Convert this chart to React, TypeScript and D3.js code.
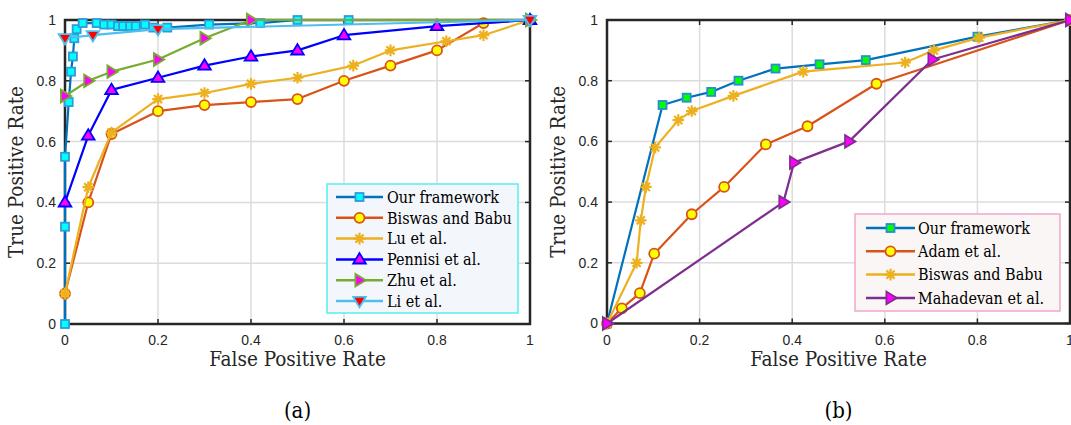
import React, { useEffect, useRef } from "react"
import * as d3 from "d3"

// ---- panel (a) ----
const aOursX = [0, 0, 0, 0.008, 0.013, 0.017, 0.02, 0.025, 0.038, 0.068, 0.084, 0.1, 0.114, 0.125, 0.14, 0.152, 0.172, 0.19, 0.22, 0.31, 0.42, 0.5, 0.61, 1]
const aOursY = [0, 0.32, 0.55, 0.73, 0.83, 0.88, 0.94, 0.97, 0.99, 0.99, 0.985, 0.985, 0.98, 0.98, 0.98, 0.98, 0.985, 0.975, 0.975, 0.985, 0.99, 1, 1, 1]
const aBiswasX = [0, 0.05, 0.1, 0.2, 0.3, 0.4, 0.5, 0.6, 0.7, 0.8, 0.9, 1]
const aBiswasY = [0.1, 0.4, 0.625, 0.7, 0.72, 0.73, 0.74, 0.8, 0.85, 0.9, 0.99, 1]
const aLuX = [0, 0.05, 0.1, 0.2, 0.3, 0.4, 0.5, 0.62, 0.7, 0.82, 0.9, 1]
const aLuY = [0.1, 0.45, 0.63, 0.74, 0.76, 0.79, 0.81, 0.85, 0.9, 0.93, 0.95, 1]
const aPennisiX = [0, 0.05, 0.1, 0.2, 0.3, 0.4, 0.5, 0.6, 0.8, 1]
const aPennisiY = [0.4, 0.62, 0.77, 0.81, 0.85, 0.88, 0.9, 0.95, 0.98, 1]
const aZhuX = [0, 0.05, 0.1, 0.2, 0.3, 0.4, 1]
const aZhuY = [0.75, 0.8, 0.83, 0.87, 0.94, 1, 1]
const aLiX = [0, 0.06, 0.2, 1]
const aLiY = [0.94, 0.95, 0.97, 1]

// ---- panel (b) ----
const bOursX = [0, 0.12, 0.172, 0.225, 0.284, 0.364, 0.459, 0.559, 0.8, 1]
const bOursY = [0, 0.72, 0.744, 0.763, 0.8, 0.84, 0.854, 0.868, 0.945, 1]
const bAdamX = [0, 0.032, 0.071, 0.102, 0.183, 0.253, 0.343, 0.433, 0.582, 1]
const bAdamY = [0, 0.05, 0.1, 0.23, 0.36, 0.45, 0.59, 0.65, 0.79, 1]
const bBiswasX = [0, 0.064, 0.073, 0.084, 0.104, 0.154, 0.183, 0.273, 0.424, 0.644, 0.706, 0.804, 1]
const bBiswasY = [0, 0.2, 0.34, 0.45, 0.58, 0.67, 0.7, 0.75, 0.83, 0.86, 0.9, 0.942, 1]
const bMahaX = [0, 0.381, 0.404, 0.523, 0.703, 1]
const bMahaY = [0, 0.4, 0.53, 0.6, 0.87, 1]

const ticks = [0, 0.2, 0.4, 0.6, 0.8, 1]
const tickLabels = ["0", "0.2", "0.4", "0.6", "0.8", "1"]

const SERIF = "'DejaVu Serif Condensed', 'DejaVu Serif', serif"
const SANS = "'Liberation Sans', Arial, sans-serif"

const zip = (xs, ys) => xs.map((x, i) => [x, ys[i]])

const seriesA = [
  { name: "Our framework", pts: zip(aOursX, aOursY), color: "#0072BD", marker: "square", fill: "#00FFFF", edge: "#2F9BD8" },
  { name: "Biswas and Babu", pts: zip(aBiswasX, aBiswasY), color: "#D95319", marker: "circle", fill: "#FFFF00", edge: "#D95319" },
  { name: "Lu et al.", pts: zip(aLuX, aLuY), color: "#EDB120", marker: "star", fill: "none", edge: "#EDB120" },
  { name: "Pennisi et al.", pts: zip(aPennisiX, aPennisiY), color: "#0000FF", marker: "up", fill: "#FF00FF", edge: "#0000FF" },
  { name: "Zhu et al.", pts: zip(aZhuX, aZhuY), color: "#77AC30", marker: "right", fill: "#FF00FF", edge: "#77AC30" },
  { name: "Li et al.", pts: zip(aLiX, aLiY), color: "#4DBEEE", marker: "down", fill: "#FF0000", edge: "#4DBEEE" }
]

const seriesB = [
  { name: "Our framework", pts: zip(bOursX, bOursY), color: "#0072BD", marker: "square", fill: "#00FF00", edge: "#2A8CD2" },
  { name: "Adam et al.", pts: zip(bAdamX, bAdamY), color: "#D95319", marker: "circle", fill: "#FFFF00", edge: "#D95319" },
  { name: "Biswas and Babu", pts: zip(bBiswasX, bBiswasY), color: "#EDB120", marker: "star", fill: "none", edge: "#EDB120" },
  { name: "Mahadevan et al.", pts: zip(bMahaX, bMahaY), color: "#7E2F8E", marker: "right", fill: "#FF00FF", edge: "#7E2F8E" }
]

function drawMarker(g, type, x, y, fill, edge) {
  if (type === "square") {
    g.append("rect").attr("x", x - 4).attr("y", y - 4).attr("width", 8).attr("height", 8)
      .attr("fill", fill).attr("stroke", edge).attr("stroke-width", 1.8)
  } else if (type === "circle") {
    g.append("circle").attr("cx", x).attr("cy", y).attr("r", 5)
      .attr("fill", fill).attr("stroke", edge).attr("stroke-width", 1.8)
  } else if (type === "star") {
    const r = 5.8
    const p = `M${x - r},${y}L${x + r},${y}M${x},${y - r}L${x},${y + r}` +
      `M${x - r * 0.7},${y - r * 0.7}L${x + r * 0.7},${y + r * 0.7}M${x - r * 0.7},${y + r * 0.7}L${x + r * 0.7},${y - r * 0.7}`
    g.append("path").attr("d", p).attr("stroke", edge).attr("stroke-width", 2.2).attr("fill", "none")
  } else {
    const r = 6.3
    let pts
    if (type === "up") pts = [[x, y - r], [x + r, y + r * 0.65], [x - r, y + r * 0.65]]
    else if (type === "down") pts = [[x, y + r], [x + r, y - r * 0.65], [x - r, y - r * 0.65]]
    else pts = [[x + r, y], [x - r * 0.65, y - r], [x - r * 0.65, y + r]]
    g.append("path").attr("d", "M" + pts.map(p => p.join(",")).join("L") + "Z")
      .attr("fill", fill).attr("stroke", edge).attr("stroke-width", 1.8).attr("stroke-linejoin", "miter")
  }
}

function drawPanel(svg, p) {
  const x = d3.scaleLinear().domain([0, 1]).range([p.left, p.right])
  const y = d3.scaleLinear().domain([0, 1]).range([p.bottom, p.top])
  const g = svg.append("g")

  // grid
  g.selectAll(".gx").data(ticks.slice(1, -1)).join("line")
    .attr("x1", d => x(d)).attr("x2", d => x(d)).attr("y1", p.top).attr("y2", p.bottom)
    .attr("stroke", "#DCDCDC").attr("stroke-width", 1.5)
  g.selectAll(".gy").data(ticks.slice(1, -1)).join("line")
    .attr("y1", d => y(d)).attr("y2", d => y(d)).attr("x1", p.left).attr("x2", p.right)
    .attr("stroke", "#DCDCDC").attr("stroke-width", 1.5)

  // tick marks (inward)
  const tk = g.append("g").attr("stroke", "#262626").attr("stroke-width", 1.5)
  ticks.forEach(t => {
    tk.append("line").attr("x1", x(t)).attr("x2", x(t)).attr("y1", p.bottom).attr("y2", p.bottom - 5)
    tk.append("line").attr("x1", x(t)).attr("x2", x(t)).attr("y1", p.top).attr("y2", p.top + 5)
    tk.append("line").attr("y1", y(t)).attr("y2", y(t)).attr("x1", p.left).attr("x2", p.left + 5)
    tk.append("line").attr("y1", y(t)).attr("y2", y(t)).attr("x1", p.right).attr("x2", p.right - 5)
  })

  // box
  g.append("rect").attr("x", p.left).attr("y", p.top)
    .attr("width", p.right - p.left).attr("height", p.bottom - p.top)
    .attr("fill", "none").attr("stroke", "#262626").attr("stroke-width", 2.5)

  // tick labels
  const tl = g.append("g").attr("font-family", SANS).attr("font-size", 14).attr("fill", "#262626")
  ticks.forEach((t, i) => {
    tl.append("text").attr("x", x(t)).attr("y", p.bottom + 21).attr("text-anchor", "middle").text(tickLabels[i])
    tl.append("text").attr("x", p.left - 9).attr("y", y(t)).attr("dy", "0.35em").attr("text-anchor", "end").text(tickLabels[i])
  })

  // axis titles + caption
  g.append("text").attr("x", (p.left + p.right) / 2).attr("y", 366).attr("text-anchor", "middle")
    .attr("font-family", SERIF).attr("font-size", 20.5).attr("fill", "#262626").text("False Positive Rate")
  g.append("text").attr("transform", `translate(${p.left - 42},${(p.top + p.bottom) / 2}) rotate(-90)`)
    .attr("text-anchor", "middle").attr("font-family", SERIF).attr("font-size", 20.5).attr("fill", "#262626")
    .text("True Positive Rate")
  g.append("text").attr("x", (p.left + p.right) / 2).attr("y", 418).attr("text-anchor", "middle")
    .attr("font-family", SERIF).attr("font-size", 22).attr("fill", "#000").text(p.caption)

  // series
  const line = d3.line().x(d => x(d[0])).y(d => y(d[1]))
  p.series.forEach(s => {
    const sg = g.append("g")
    sg.append("path").attr("d", line(s.pts)).attr("fill", "none")
      .attr("stroke", s.color).attr("stroke-width", 2.2).attr("stroke-linejoin", "round")
    s.pts.forEach(d => drawMarker(sg, s.marker, x(d[0]), y(d[1]), s.fill, s.edge))
  })

  // legend
  const L = p.legend
  const lg = g.append("g")
  lg.append("rect").attr("x", L.x0).attr("y", L.y0).attr("width", L.x1 - L.x0).attr("height", L.y1 - L.y0)
    .attr("fill", L.bg).attr("stroke", L.border).attr("stroke-width", 1.5)
  p.series.forEach((s, i) => {
    const yy = L.row0 + i * L.step
    lg.append("line").attr("x1", L.lx0).attr("x2", L.lx1).attr("y1", yy).attr("y2", yy)
      .attr("stroke", s.color).attr("stroke-width", 2.5)
    drawMarker(lg, s.marker, (L.lx0 + L.lx1) / 2, yy, s.fill, s.edge)
    lg.append("text").attr("x", L.tx).attr("y", yy).attr("dy", "0.36em")
      .attr("font-family", SERIF).attr("font-size", 16).attr("fill", "#000").text(s.name)
  })
}

export default function App() {
  const ref = useRef(null)

  useEffect(() => {
    const svg = d3.select(ref.current)
    svg.selectAll("*").remove()
    drawPanel(svg, {
      left: 65, right: 530, top: 20, bottom: 324, caption: "(a)", series: seriesA,
      legend: { x0: 327, x1: 518, y0: 184, y1: 313, row0: 197, step: 20.8, lx0: 336, lx1: 383, tx: 387, bg: "#F3F6FB", border: "#55EEF2" }
    })
    drawPanel(svg, {
      left: 607, right: 1070, top: 20, bottom: 323.5, caption: "(b)", series: seriesB,
      legend: { x0: 855, x1: 1060, y0: 214, y1: 311, row0: 228, step: 23.3, lx0: 866, lx1: 915, tx: 918, bg: "#FAF6F6", border: "#F2A6CB" }
    })
  }, [])

  return (
    <svg ref={ref} width={1071} height={425}
      style={{ position: "absolute", left: 0, top: 0, background: "#fff" }} />
  )
}
